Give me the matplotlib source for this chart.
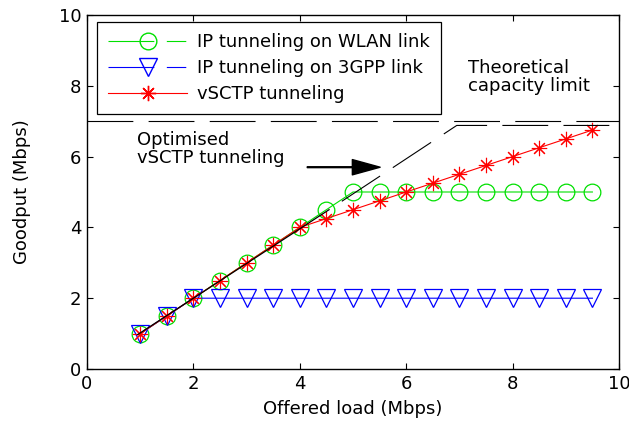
import matplotlib
matplotlib.use("Agg")
import matplotlib.pyplot as plt
from matplotlib.lines import Line2D

plt.rcParams['font.family'] = ['DejaVu Sans']
plt.rcParams['lines.scale_dashes'] = False

# ---- data ----
load = [1, 1.5, 2, 2.5, 3, 3.5, 4, 4.5, 5, 5.5, 6, 6.5, 7, 7.5, 8, 8.5, 9, 9.5]
wlan = [1, 1.5, 2, 2.5, 3, 3.5, 4, 4.5, 5, 5, 5, 5, 5, 5, 5, 5, 5, 5]
gpp3 = [1, 1.5, 2, 2, 2, 2, 2, 2, 2, 2, 2, 2, 2, 2, 2, 2, 2, 2]
vsctp = [1, 1.5, 2, 2.5, 3, 3.5, 4, 4.25, 4.5, 4.75, 5.0, 5.25, 5.5, 5.75, 6.0, 6.25, 6.5, 6.75]
capacity_x = [0, 10]
capacity_y = [7, 7]
opt_solid_x = [0.95, 4.55]
opt_solid_y = [0.97, 4.5]
opt_dash_x = [4.55, 6.95, 10]
opt_dash_y = [4.5, 6.88, 6.88]
labels = ['IP tunneling on WLAN link', 'IP tunneling on 3GPP link', 'vSCTP tunneling']

FS = 13

fig = plt.figure(figsize=(6.29, 4.25), dpi=100)
ax = fig.add_axes([87/629, 1-369/425, (619-87)/629, (369-15)/425])

green = '#00e000'
ax.plot(load, wlan, color=green, lw=0.8, marker='o', ms=12, mfc='none', mec=green, mew=0.9)
ax.plot(load, gpp3, color='#0000ff', lw=0.8, marker='v', ms=13, mfc='none', mec='#0000ff', mew=0.9)
ax.plot(load, vsctp, color='#ff0000', lw=0.8, marker=(8, 2, 0), ms=11, mec='#ff0000', mew=0.8)

ax.plot(capacity_x, capacity_y, color='k', lw=0.8, dashes=(33, 11))
ax.plot(opt_solid_x, opt_solid_y, color='k', lw=0.9)
ax.plot(opt_dash_x, opt_dash_y, color='k', lw=0.8, linestyle=(33, (33, 11)), dash_capstyle='butt')

ax.set_xlim(0, 10)
ax.set_ylim(0, 10)
ax.set_xticks([0, 2, 4, 6, 8, 10])
ax.set_yticks([0, 2, 4, 6, 8, 10])
ax.tick_params(direction='in', top=True, right=True, labelsize=FS, length=4, width=0.8, pad=4)
for s in ax.spines.values():
    s.set_linewidth(1.0)
ax.set_xlabel('Offered load (Mbps)', fontsize=FS, labelpad=5)
ax.set_ylabel('Goodput (Mbps)', fontsize=FS, labelpad=20)

ax.text(7.16, 8.75, 'Theoretical\ncapacity limit', fontsize=FS, va='top', ha='left', linespacing=1.0)
ax.text(0.94, 6.72, 'Optimised\nvSCTP tunneling', fontsize=FS, va='top', ha='left', linespacing=1.0)
ax.annotate('', xy=(5.51, 5.7), xytext=(4.14, 5.7),
            arrowprops=dict(facecolor='black', edgecolor='black', width=0.6, headwidth=11, headlength=20, shrink=0))

handles = [
    Line2D([], [], color=green, lw=0.8, marker='o', ms=12, mfc='none', mec=green, dashes=(33, 9, 14, 100)),
    Line2D([], [], color='#0000ff', lw=0.8, marker='v', ms=13, mfc='none', mec='#0000ff', dashes=(33, 9, 14, 100)),
    Line2D([], [], color='#ff0000', lw=0.8, marker=(8, 2, 0), ms=11, mec='#ff0000'),
]
leg = ax.legend(handles, labels, loc='upper left', bbox_to_anchor=(97/629, 1-22/425),
                bbox_transform=fig.transFigure, fontsize=FS, frameon=True, fancybox=False,
                edgecolor='black', borderaxespad=0, borderpad=0.6, handlelength=4.4,
                handletextpad=0.55, labelspacing=0.45, framealpha=1)
leg.get_frame().set_linewidth(0.9)

fig.savefig('out.png', dpi=100)
